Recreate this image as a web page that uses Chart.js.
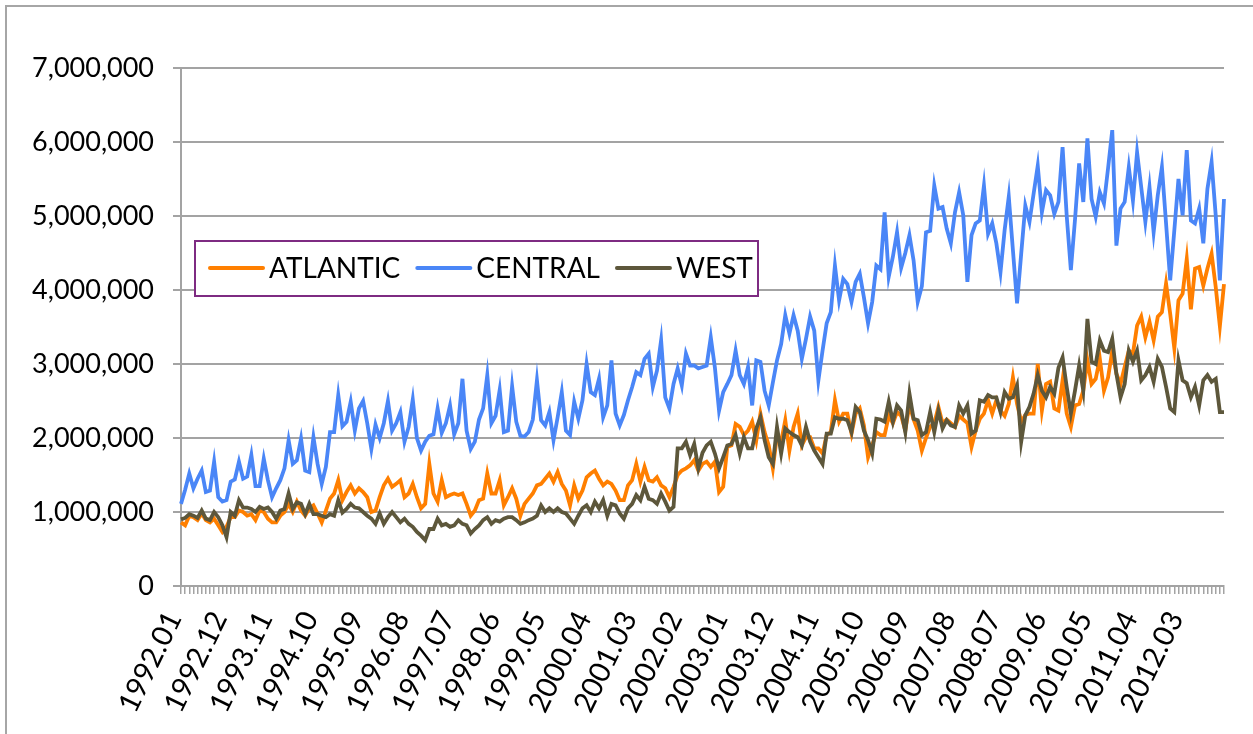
<!DOCTYPE html>
<html>
<head>
<meta charset="utf-8">
<script src="https://cdn.jsdelivr.net/npm/chart.js@4.4.1/dist/chart.umd.min.js"></script>
<style>
  html, body { margin: 0; padding: 0; background: #fff; overflow: hidden; }
  #wrap { position: relative; width: 1253px; height: 734px; overflow: hidden; }
  #frame { position: absolute; left: 5px; top: 5px; width: 1300px; height: 800px; border: 2px solid #a6a6a6; }
  canvas { position: absolute; left: 0; top: 0; }
</style>
</head>
<body>
<div id="wrap"><div id="frame"></div><canvas id="myChart" width="1253" height="734"></canvas></div>
<script>
// monthly values in thousands, 1992.01 .. 2013.01
var atlantic = [
  860, 820, 950, 930, 890, 980, 890, 860, 910, 820,
  730, 800, 930, 930, 1020, 1000, 950, 970, 890, 1020,
  1000, 910, 860, 860, 950, 1000, 1110, 1000, 1140, 1020,
  950, 1050, 1090, 980, 860, 1020, 1180, 1250, 1430, 1160,
  1270, 1360, 1250, 1320, 1270, 1200, 1000, 1020, 1200, 1360,
  1450, 1340, 1380, 1430, 1200, 1250, 1380, 1200, 1050, 1110,
  1650, 1250, 1140, 1430, 1200, 1230, 1250, 1230, 1250, 1110,
  950, 1020, 1160, 1180, 1520, 1250, 1250, 1430, 1090, 1200,
  1320, 1180, 950, 1110, 1180, 1250, 1360, 1380, 1450, 1520,
  1410, 1540, 1380, 1290, 1090, 1360, 1180, 1290, 1470, 1520,
  1560, 1450, 1360, 1410, 1380, 1290, 1160, 1160, 1360, 1430,
  1650, 1410, 1610, 1430, 1410, 1470, 1360, 1320, 1200, 1340,
  1500, 1560, 1590, 1630, 1700, 1560, 1650, 1680, 1610, 1680,
  1270, 1340, 1880, 1900, 2190, 2150, 2040, 2100, 2220, 1970,
  2330, 2080, 1900, 1590, 2040, 1950, 2240, 1830, 2150, 2330,
  1900, 2010, 2010, 1860, 1860, 1790, 2040, 2080, 2510, 2220,
  2330, 2330, 2060, 2330, 2400, 2170, 1740, 1900, 2080, 2040,
  2040, 2300, 2200, 2350, 2300, 2100, 2450, 2250, 2100, 1830,
  2000, 2150, 2200, 2420, 2200, 2250, 2200, 2150, 2300, 2250,
  2200, 1880, 2100, 2260, 2330, 2510, 2330, 2510, 2370, 2300,
  2460, 2820, 2460, 2220, 2310, 2330, 2330, 3000, 2370, 2730,
  2760, 2400, 2370, 2780, 2330, 2150, 2440, 2460, 2640, 3050,
  2730, 2800, 3070, 2640, 2820, 3180, 2870, 2730, 2960, 3180,
  3140, 3520, 3640, 3360, 3570, 3320, 3640, 3700, 4090, 3680,
  3210, 3860, 3950, 4420, 3740, 4290, 4310, 4060, 4290, 4490,
  4040, 3510, 4080
];
var central = [
  1110, 1300, 1520, 1320, 1450, 1560, 1270, 1290, 1680, 1200,
  1140, 1160, 1410, 1440, 1680, 1450, 1480, 1770, 1350, 1350,
  1720, 1430, 1200, 1320, 1430, 1590, 1970, 1650, 1700, 1990,
  1560, 1540, 2010, 1650, 1380, 1610, 2080, 2080, 2580, 2160,
  2220, 2490, 2100, 2400, 2500, 2200, 1850, 2180, 2000, 2200,
  2500, 2100, 2200, 2350, 1950, 2150, 2520, 2000, 1830, 1950,
  2030, 2050, 2400, 2070, 2200, 2440, 2050, 2200, 2800, 2100,
  1850, 1950, 2250, 2400, 2850, 2200, 2300, 2650, 2080, 2100,
  2700, 2220, 2030, 2020, 2080, 2250, 2780, 2240, 2170, 2350,
  1970, 2280, 2620, 2100, 2040, 2490, 2260, 2510, 3000, 2620,
  2580, 2800, 2280, 2440, 3050, 2330, 2170, 2310, 2510, 2690,
  2890, 2850, 3070, 3140, 2690, 2910, 3320, 2550, 2400, 2730,
  2940, 2710, 3140, 2980, 2980, 2940, 2960, 2980, 3360, 2950,
  2370, 2620, 2730, 2850, 3180, 2850, 2730, 2960, 2440, 3050,
  3030, 2640, 2440, 2750, 3050, 3270, 3660, 3410, 3660, 3450,
  3070, 3340, 3640, 3450, 2780, 3180, 3550, 3700, 4330, 3860,
  4150, 4080, 3840, 4110, 4220, 3900, 3550, 3840, 4330, 4280,
  5050, 4180, 4450, 4780, 4300, 4500, 4740, 4400, 3840, 4050,
  4780, 4800, 5410, 5100, 5120, 4830, 4630, 5050, 5320, 5010,
  4110, 4740, 4900, 4940, 5410, 4760, 4900, 4630, 4240, 4810,
  5260, 4540, 3820, 4490, 5140, 4920, 5300, 5680, 5050, 5350,
  5280, 5030, 5190, 5930, 5000, 4270, 4950, 5710, 5190, 6050,
  5230, 4990, 5320, 5170, 5650, 6160, 4600, 5100, 5190, 5660,
  5210, 5860, 5390, 4920, 5390, 4780, 5280, 5660, 4900, 4130,
  4810, 5500, 5010, 5890, 4940, 4900, 5100, 4630, 5370, 5730,
  5010, 4130, 5230
];
var west = [
  900, 920, 970, 950, 920, 1020, 910, 890, 1000, 930,
  820, 660, 1000, 950, 1160, 1060, 1060, 1040, 1000, 1070,
  1040, 1060, 1000, 910, 1020, 1040, 1250, 1040, 1130, 1110,
  970, 1110, 970, 970, 950, 930, 970, 950, 1160, 990,
  1040, 1110, 1060, 1050, 1000, 950, 910, 840, 980, 840,
  930, 1000, 930, 860, 910, 840, 800, 730, 680, 620,
  770, 770, 910, 820, 840, 800, 820, 890, 840, 820,
  710, 770, 820, 890, 930, 840, 890, 870, 910, 930,
  930, 890, 840, 860, 890, 910, 950, 1090, 1000, 1050,
  1000, 1050, 1000, 980, 910, 840, 950, 1050, 1090, 1000,
  1140, 1050, 1160, 950, 1110, 1090, 980, 910, 1050, 1110,
  1230, 1160, 1340, 1180, 1160, 1110, 1250, 1140, 1020, 1070,
  1860, 1860, 1950, 1770, 1920, 1590, 1800, 1900, 1950, 1790,
  1590, 1740, 1900, 1920, 2040, 1790, 2010, 1860, 1860, 2130,
  2280, 1970, 1740, 1650, 2150, 1790, 2130, 2080, 2040, 2010,
  1900, 2150, 1950, 1830, 1740, 1650, 2060, 2060, 2280, 2260,
  2260, 2240, 2080, 2420, 2350, 2100, 1970, 1790, 2260, 2250,
  2220, 2490, 2220, 2440, 2370, 2080, 2600, 2260, 2240, 2040,
  2080, 2350, 2080, 2370, 2130, 2240, 2170, 2150, 2440, 2330,
  2440, 2060, 2100, 2510, 2490, 2580, 2550, 2550, 2350, 2620,
  2530, 2550, 2710, 1950, 2310, 2420, 2600, 2850, 2640, 2550,
  2690, 2600, 2950, 3090, 2690, 2330, 2640, 2980, 2640, 3610,
  3030, 3000, 3320, 3180, 3160, 3340, 2870, 2550, 2730, 3180,
  3030, 3180, 2780, 2850, 2960, 2760, 3070, 2960, 2690, 2400,
  2350, 3050, 2780, 2740, 2550, 2690, 2440, 2780, 2850, 2760,
  2800, 2350, 2350
];
var seriesNames = ['ATLANTIC', 'CENTRAL', 'WEST'];
var seriesColors = ['#ff7f00', '#4a86f7', '#5d573b'];
var yTicks = [0, 1000000, 2000000, 3000000, 4000000, 5000000, 6000000, 7000000];

// category labels, one per month
var months = [];
for (var i = 0; i < atlantic.length; i++) {
  var yr = 1992 + Math.floor(i / 12), mo = i % 12 + 1;
  months.push(yr + '.' + (mo < 10 ? '0' + mo : mo));
}

var FONT = 'Lato';
var GRID = '#a3a3a3';

// legend drawn as a framed box inside the plot
var boxLegend = {
  id: 'boxLegend',
  afterDraw: function(chart) {
    var ctx = chart.ctx;
    ctx.save();
    ctx.fillStyle = '#fff';
    ctx.fillRect(195, 241, 563, 55);
    ctx.strokeStyle = '#7e2b82';
    ctx.lineWidth = 2;
    ctx.strokeRect(195, 241, 563, 55);
    ctx.font = '28px ' + FONT;
    ctx.textBaseline = 'middle';
    var x = 210;
    chart.data.datasets.forEach(function(ds) {
      ctx.strokeStyle = ds.borderColor;
      ctx.lineWidth = 4;
      ctx.lineCap = 'round';
      ctx.beginPath();
      ctx.moveTo(x, 268);
      ctx.lineTo(x + 53, 268);
      ctx.stroke();
      x += 59;
      ctx.fillStyle = '#000';
      ctx.fillText(ds.label, x, 269);
      x += ctx.measureText(ds.label).width + 17;
    });
    ctx.restore();
  }
};

var order = [2, 1, 0];
var myChart = new Chart('myChart', {
  type: 'line',
  data: {
    labels: months,
    datasets: [atlantic, central, west].map(function(arr, k) {
      return {
        label: seriesNames[k],
        data: arr.map(function(v) { return v * 1000; }),
        borderColor: seriesColors[k],
        backgroundColor: seriesColors[k],
        borderWidth: 3.8,
        pointRadius: 0,
        tension: 0,
        order: order[k]
      };
    })
  },
  options: {
    responsive: false,
    animation: false,
    devicePixelRatio: 1,
    layout: { padding: { left: 0, right: 29, top: 68, bottom: 0 } },
    plugins: { legend: { display: false }, tooltip: { enabled: false } },
    scales: {
      x: {
        ticks: {
          autoSkip: false,
          minRotation: 64,
          maxRotation: 64,
          padding: 12,
          labelOffset: -7,
          color: '#000',
          font: { family: FONT, size: 29 },
          callback: function(v, i) { return i % 11 === 0 ? months[i] : ''; }
        },
        grid: { drawOnChartArea: false, drawTicks: true, tickLength: 8, color: GRID, lineWidth: 1.5 },
        border: { color: GRID, width: 2 },
        afterFit: function(s) { s.height = 148; s.paddingLeft = 0; s.paddingRight = 0; }
      },
      y: {
        min: 0,
        max: 7000000,
        afterBuildTicks: function(s) { s.ticks = yTicks.map(function(v) { return { value: v }; }); },
        ticks: {
          padding: 19,
          color: '#000',
          font: { family: FONT, size: 27 },
          callback: function(v) { return v.toLocaleString('en-US'); }
        },
        grid: { color: GRID, lineWidth: 2, tickLength: 8 },
        border: { color: GRID, width: 2 },
        afterFit: function(s) { s.width = 181; }
      }
    }
  },
  plugins: [boxLegend]
});
</script>
</body>
</html>
